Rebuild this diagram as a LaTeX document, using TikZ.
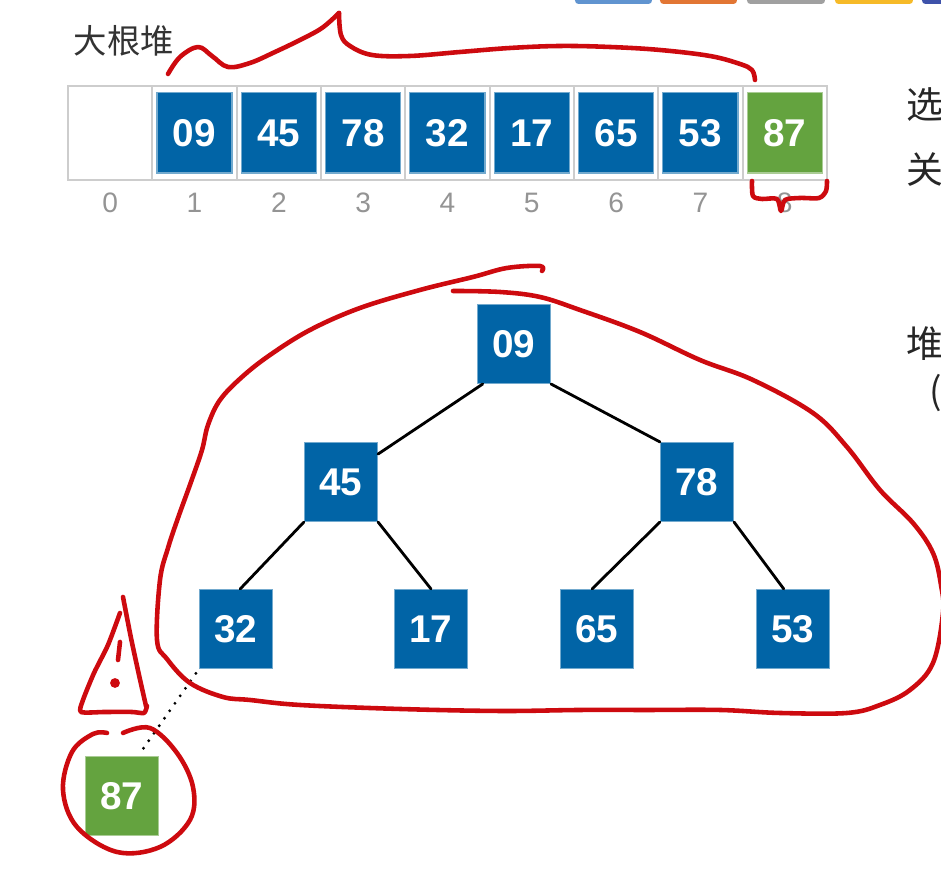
\documentclass[tikz,border=0pt]{standalone}
\usepackage{fontspec}
\setmainfont{Liberation Sans}
\newfontfamily\cjk{Noto Sans CJK SC}
\usetikzlibrary{positioning}
\definecolor{heapblue}{RGB}{1,100,166}
\definecolor{heapgreen}{RGB}{100,163,63}
\definecolor{inkred}{RGB}{205,10,15}
\definecolor{cellgray}{RGB}{205,205,205}
\definecolor{stripblue}{RGB}{96,148,208}
\definecolor{striporange}{RGB}{226,118,52}
\definecolor{stripgray}{RGB}{160,160,160}
\definecolor{stripyellow}{RGB}{246,186,40}
\definecolor{stripnavy}{RGB}{62,82,170}
\tikzset{
  every node/.style={inner sep=0pt},
  key/.style={rectangle, fill=heapblue, draw=heapblue!55!white, line width=0.3pt,
    text=white, font=\fontsize{11}{12}\selectfont\bfseries,
    minimum width=0.73cm, minimum height=0.79cm},
  arraykey/.style={key, minimum width=0.75cm, minimum height=0.8cm},
  moved/.style={fill=heapgreen, draw=heapgreen!55!white},
  idx/.style={text=black!42, font=\fontsize{8}{10}\selectfont},
  cell/.style={draw=cellgray, line width=0.5pt},
  edge/.style={line width=0.8pt, line cap=round},
  ink/.style={draw=inkred, line width=1.3pt, line cap=round, line join=round},
  side text/.style={anchor=west, text=black!85, font=\cjk\fontsize{10.5}{12}\selectfont}
}

\begin{document}
\begin{tikzpicture}[x=0.01cm, y=-0.01cm]
  \useasboundingbox (0,0) rectangle (941,871);
  \clip (0,0) rectangle (941,871);

  \fill[stripblue, rounded corners=1pt] (575,-4) rectangle (652,4);
  \fill[striporange, rounded corners=1pt] (660,-4) rectangle (737,4);
  \fill[stripgray, rounded corners=1pt] (747,-4) rectangle (825,4);
  \fill[stripyellow, rounded corners=1pt] (835,-4) rectangle (913,4);
  \fill[stripnavy, rounded corners=1pt] (922,-4) rectangle (950,4);

  \node[side text, text=black!80, font=\cjk\fontsize{9.5}{11}\selectfont]
    (title) at (73,41) {大根堆};

  % array
  \draw[cell] (68,86) rectangle (827,180);
  \foreach \k in {1,...,8}
    \draw[cell] ({68+84.33*\k},86) -- ++(0,94);
  \foreach \v [count=\k] in {09,45,78,32,17,65,53}
    \node[arraykey] (a\k) at ({68+84.33*(\k+0.5)},133) {\v};
  \node[arraykey, moved] (a8) at ({68+84.33*8.5},133) {87};
  \foreach \k in {0,...,8}
    \node[idx] (i\k) at ({68+84.33*(\k+0.5)},203) {\k};

  \node[side text] (s1) at (906,105) {选};
  \node[side text] (s2) at (906,170) {关};
  \node[side text] (s3) at (906,344) {堆};
  \node[side text] (s4) at (929,393) {(};

  % tree
  \node[key] (n09) at (514,344) {09};
  \node[key] (n45) at (341,482) {45};
  \node[key] (n78) at (697,482) {78};
  \node[key] (n32) at (236,629) {32};
  \node[key] (n17) at (431,629) {17};
  \node[key] (n65) at (597,629) {65};
  \node[key] (n53) at (793,629) {53};
  \node[key, moved] (n87) at (122,796) {87};

  \draw[edge] (n09.232) -- (n45.37);
  \draw[edge] (n09.south east) -- (n78.north west);
  \draw[edge] (n45.south west) -- (n32.84);
  \draw[edge] (n45.south east) -- (n17.north);
  \draw[edge] (n78.south west) -- (n65.97);
  \draw[edge] (n78.south east) -- (n53.103);
  \draw[line width=0.9pt, line cap=round, dash pattern=on 0pt off 2.6pt,
    shorten <=1.5pt, shorten >=1pt] (n32.south west) -- (n87.68);

  % pen strokes
  \draw[ink] plot[smooth, tension=0.6] coordinates {(168,74) (180,57) (198,47)
    (212,56) (228,67) (250,63) (275,52) (300,40) (322,28) (339,13)};
  \draw[ink] plot[smooth, tension=0.6] coordinates {(339,13) (341,35) (350,46)
    (372,55) (410,56) (460,52) (510,48) (560,46) (610,47) (660,50) (710,56)
    (740,64) (752,70) (755,80)};
  \draw[ink] plot[smooth, tension=0.5] coordinates {(752,181) (753,196) (762,199)
    (777,199) (781,211) (785,200) (800,198) (819,198) (826,191) (827,181)};

  \draw[ink] plot[smooth, tension=0.6] coordinates {(453,291) (500,292) (540,297)
    (580,310) (640,332) (700,360) (753,380) (813,413) (847,447) (880,490)
    (913,523) (933,553) (941,585) (943,613) (933,663) (910,690) (880,705)
    (847,713) (780,713) (720,710) (647,710) (580,710) (500,711) (400,709)
    (300,705) (250,700) (223,697) (190,683) (167,659) (157,640) (160,580)
    (168,548) (178,518) (191,482) (202,450) (208,425) (220,400) (242,377)
    (270,355) (310,330) (360,308) (420,290) (473,277) (507,268) (540,266)
    (542,271)};

  \draw[ink] plot[smooth, tension=0.4] coordinates {(120,613) (108,645) (94,673)
    (83,700) (81,712) (105,712) (132,712) (144,713) (147,706)};
  \draw[ink] plot[smooth, tension=0.4] coordinates {(146,706) (139,675)
    (131,638) (123,597)};
  \draw[ink] (120,642) -- (118,660);
  \fill[inkred] (115,683) circle[radius=1.4pt];

  \draw[ink] plot[smooth, tension=0.6] coordinates {(107,733) (93,734) (72,752)
    (63,790) (77,827) (117,852) (160,847) (190,820) (193,787) (177,753)
    (150,728) (123,733)};
\end{tikzpicture}
\end{document}
